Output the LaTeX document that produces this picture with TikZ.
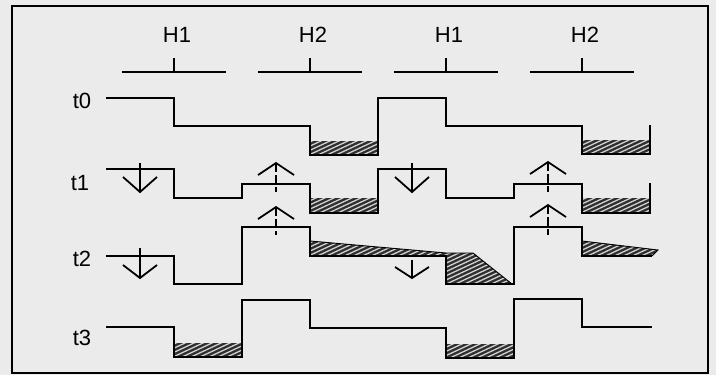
\documentclass[tikz,border=0pt]{standalone}
\usepackage{fontspec}
\setmainfont{Liberation Sans}
\newcommand\wfhatch[1]{%
  \begin{scope}
    \clip #1;
    \fill[hatchdark] #1;
    \foreach \i in {-340,-331,...,470} \draw[hatchlight, line width=1.3pt] (\i,420) -- (\i+900,0);
  \end{scope}}
\newcommand\wfdown[4]{% x, top, bottom, wing height
  \draw[arr] (#1,#2) -- (#1,#3);
  \draw[arr] (#1-17,#3-#4) -- (#1,#3) -- (#1+17,#3-#4);}
\newcommand\wfup[3]{% x, apex, bottom
  \draw[arr, dash pattern=on 9pt off 3pt] (#1,#2) -- (#1,#3);
  \draw[arr] (#1-18,#2+12) -- (#1,#2) -- (#1+18,#2+12);}
\definecolor{bg}{gray}{0.92}
\definecolor{hatchdark}{gray}{0.18}
\definecolor{hatchlight}{gray}{0.82}
\begin{document}
\begin{tikzpicture}[x=1pt,y=-1pt,
  lbl/.style={font=\fontsize{22}{26}\selectfont, inner sep=0pt},
  wave/.style={line width=2pt, line join=miter},
  hdr/.style={line width=1.8pt},
  arr/.style={line width=1.8pt, line join=miter},
  edge/.style={line width=0.9pt}]
\useasboundingbox (0,0) rectangle (716,375);
\fill[bg] (0,0) rectangle (716,375);
\draw[line width=2pt] (12,6) rectangle (708,373);

% header labels
\node[lbl] (h1a) at (177,35) {H1};
\node[lbl] (h2a) at (313,35) {H2};
\node[lbl] (h1b) at (449,35) {H1};
\node[lbl] (h2b) at (585,35) {H2};
\foreach \c in {174,310,446,582} {
  \draw[hdr] (\c-52,72) -- (\c+52,72);
  \draw[line width=1.5pt] (\c,72) -- (\c,58);
}

% row labels
\node[lbl] (t0) at (82,101) {t0};
\node[lbl] (t1) at (80,183) {t1};
\node[lbl] (t2) at (82,259) {t2};
\node[lbl] (t3) at (82,338) {t3};

% hatched areas
\wfhatch{(310,141) rectangle (378,155)}
\wfhatch{(582,140) rectangle (650,154)}
\wfhatch{(310,198) rectangle (378,213)}
\wfhatch{(582,198) rectangle (650,213)}
\wfhatch{(174,343) rectangle (242,357)}
\wfhatch{(446,344) rectangle (514,358)}
\wfhatch{(310,241) -- (446,253) -- (446,256) -- (310,256) -- cycle}
\wfhatch{(446,253) -- (473,253) -- (512,284) -- (446,284) -- cycle}
\wfhatch{(582,241) -- (658,250) -- (652,256) -- (582,256) -- cycle}
\draw[edge] (310,241) -- (446,253) -- (473,253) -- (512,284);
\draw[edge] (582,241) -- (658,250) -- (652,256);

% waveforms
\draw[wave] (106,98) -- (174,98) -- (174,126) -- (310,126) -- (310,155) -- (378,155) -- (378,98)
  -- (446,98) -- (446,126) -- (582,126) -- (582,154) -- (650,154) -- (650,125);
\draw[wave] (106,169) -- (174,169) -- (174,198) -- (242,198) -- (242,184) -- (310,184) -- (310,213)
  -- (378,213) -- (378,169) -- (446,169) -- (446,198) -- (514,198) -- (514,184) -- (582,184)
  -- (582,213) -- (650,213) -- (650,183);
\draw[wave] (106,256) -- (174,256) -- (174,284) -- (242,284) -- (242,227) -- (310,227) -- (310,256)
  -- (446,256) -- (446,284) -- (514,284) -- (514,227) -- (582,227) -- (582,256) -- (652,256);
\draw[wave] (106,327) -- (174,327) -- (174,357) -- (242,357) -- (242,300) -- (310,300) -- (310,328)
  -- (446,328) -- (446,358) -- (514,358) -- (514,299) -- (582,299) -- (582,327) -- (652,327);

% arrows
\wfdown{140}{163}{192}{15}
\wfdown{412}{163}{192}{15}
\wfdown{140}{248}{278}{13}
\wfdown{412}{260}{278}{11}
\wfup{276}{163}{192}
\wfup{548}{162}{192}
\wfup{276}{207}{235}
\wfup{548}{205}{235}
\end{tikzpicture}
\end{document}
